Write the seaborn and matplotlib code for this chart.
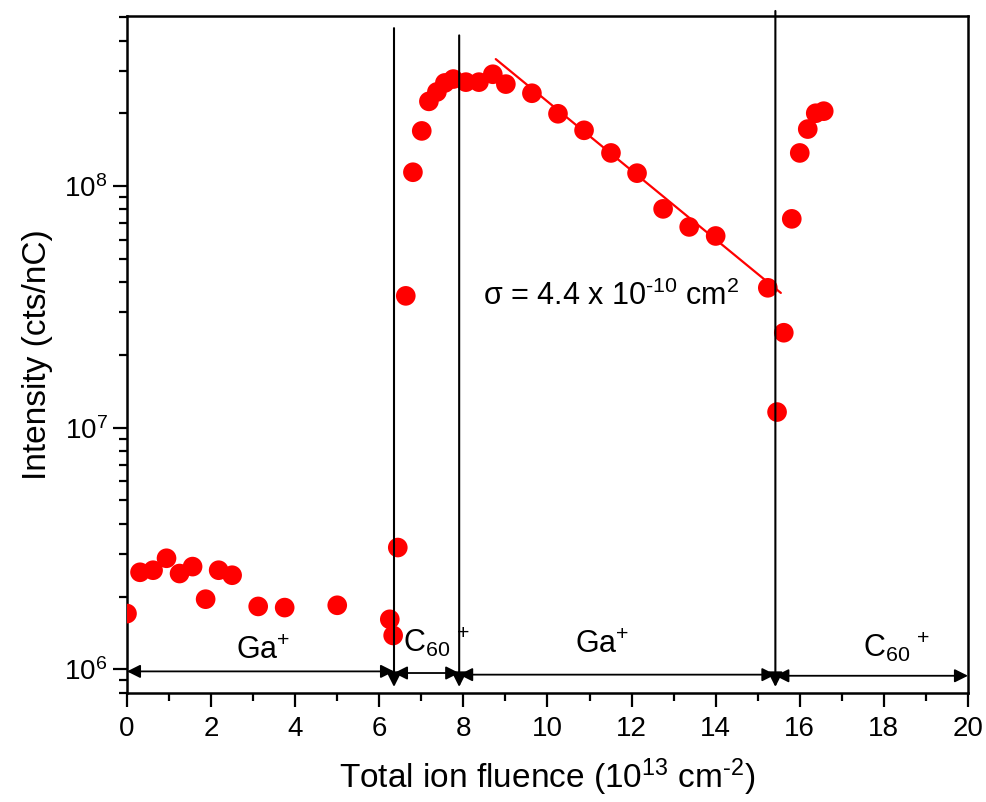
"""Secondary ion intensity vs. total ion fluence (alternating Ga+ / C60+ sputtering)."""
import matplotlib
matplotlib.use("Agg")
import matplotlib.pyplot as plt
import numpy as np
import pandas as pd
import seaborn as sns
from matplotlib.ticker import LogLocator, MultipleLocator, NullFormatter

# measured points (fluence in 1e13 cm^-2, intensity in cts/nC)
fluence = [0.0, 0.31, 0.62, 0.94, 1.25, 1.56, 1.87, 2.18, 2.50, 3.12, 3.75, 5.00,
           6.25, 6.33, 6.44,
           6.63, 6.80, 7.01, 7.18, 7.37, 7.56, 7.76,
           8.06, 8.37, 8.70, 9.01, 9.63, 10.25, 10.87, 11.51, 12.13, 12.75, 13.37,
           14.00, 15.24,
           15.46, 15.62, 15.81, 16.00, 16.19, 16.38, 16.57]
intensity = [1.70e6, 2.52e6, 2.57e6, 2.88e6, 2.49e6, 2.66e6, 1.95e6, 2.57e6, 2.45e6,
             1.82e6, 1.80e6, 1.84e6,
             1.61e6, 1.38e6, 3.19e6,
             3.51e7, 1.14e8, 1.69e8, 2.24e8, 2.45e8, 2.67e8, 2.77e8,
             2.69e8, 2.69e8, 2.90e8, 2.64e8, 2.42e8, 1.99e8, 1.70e8, 1.37e8, 1.13e8,
             8.04e7, 6.77e7, 6.21e7, 3.79e7,
             1.16e7, 2.47e7, 7.31e7, 1.37e8, 1.72e8, 2.00e8, 2.04e8]

# exponential decay fit (end points)
fit_x = [8.77, 15.55]
fit_y = [3.35e8, 3.61e7]

# beam switch positions and the top of each marker line
switch_x = [6.35, 7.90, 15.42]
switch_top = [4.5e8, 4.2e8, 5.3e8]

# beam segments: start, end, arrow level, label and where it sits
seg_start = [0.0, 6.35, 7.90, 15.42]
seg_end = [6.35, 7.90, 15.42, 20.0]
seg_level = [0.98e6, 0.965e6, 0.95e6, 0.94e6]
seg_label = ["Ga$^{+}$", "C$_{60}$$^{\\,+}$", "Ga$^{+}$", "C$_{60}$$^{\\,+}$"]
seg_label_x = [2.6, 6.56, 10.65, 17.5]
seg_label_y = [1.10e6, 1.18e6, 1.17e6, 1.13e6]

sns.set_style("ticks")
plt.rcParams["font.family"] = ["Liberation Sans", "DejaVu Sans"]
plt.rcParams["mathtext.fontset"] = "custom"
plt.rcParams["mathtext.rm"] = "Liberation Sans"
plt.rcParams["mathtext.it"] = "Liberation Sans:italic"
for key in ["text.color", "axes.labelcolor", "xtick.color", "ytick.color",
            "axes.edgecolor"]:
    plt.rcParams[key] = "black"

fig = plt.figure(figsize=(9.86, 8.02), dpi=100)
ax = fig.add_axes([0.1288, 0.1363, 0.8529, 0.8437])

df = pd.DataFrame({"fluence": fluence, "intensity": intensity})
sns.scatterplot(data=df, x="fluence", y="intensity", ax=ax, s=200,
                color="#ff0000", edgecolor="none", linewidth=0, zorder=3)
sns.lineplot(x=fit_x, y=fit_y, ax=ax, color="#ff0000", lw=1.6, zorder=2)

ax.set_yscale("log")
ax.set_xlim(0, 20)
ax.set_ylim(8e5, 5.05e8)

# beam switch markers: vertical line ending in a downward arrowhead
for x, top in zip(switch_x, switch_top):
    ax.annotate("", xy=(x, 0.845e6), xytext=(x, top), annotation_clip=False,
                arrowprops=dict(arrowstyle="-|>", color="black", lw=1.5,
                                mutation_scale=22, shrinkA=0, shrinkB=0))

for x0, x1, yl, lab, lx, ly in zip(seg_start, seg_end, seg_level, seg_label,
                                   seg_label_x, seg_label_y):
    ax.annotate("", xy=(x1, yl), xytext=(x0, yl), annotation_clip=False,
                arrowprops=dict(arrowstyle="<|-|>", color="black", lw=1.3,
                                mutation_scale=20, shrinkA=0, shrinkB=0))
    ax.text(lx, ly, lab, fontsize=22, ha="left", va="baseline")

ax.text(8.47, 3.51e7, "σ = 4.4 x 10$^{\\text{-10}}$ cm$^{2}$", fontsize=22,
        ha="left", va="center")

ax.xaxis.set_major_locator(MultipleLocator(2))
ax.xaxis.set_minor_locator(MultipleLocator(1))
ax.yaxis.set_major_locator(LogLocator(base=10))
ax.yaxis.set_minor_locator(LogLocator(base=10, subs=np.arange(2, 10)))
ax.yaxis.set_minor_formatter(NullFormatter())

ax.tick_params(which="major", direction="out", length=10, width=1.6,
               top=False, right=False, labelsize=20)
ax.tick_params(axis="x", which="major", pad=7)
ax.tick_params(axis="y", which="major", pad=4)
ax.tick_params(which="minor", direction="out", length=6, width=1.6,
               top=False, right=False)
for sp in ax.spines.values():
    sp.set_linewidth(1.8)

ax.set_xlabel("Total ion fluence (10$^{13}$ cm$^{\\text{-2}}$)", fontsize=24, labelpad=10)
ax.set_ylabel("Intensity (cts/nC)", fontsize=24, labelpad=8)

fig.savefig("out.png", dpi=100)
